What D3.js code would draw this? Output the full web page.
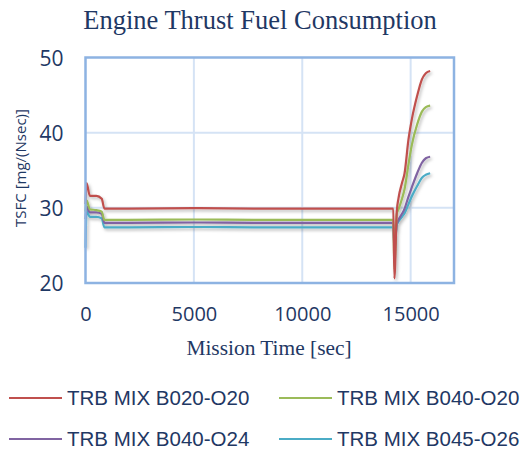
<!DOCTYPE html>
<html>
<head>
<meta charset="utf-8">
<script src="https://cdn.jsdelivr.net/npm/d3@7"></script>
<style>
  html, body { margin: 0; padding: 0; background: #fff; }
  svg { display: block; }
</style>
</head>
<body>
<svg id="chart" width="523" height="451"></svg>
<script>
// ---- data ----
const times = [0, 50, 200, 500, 750, 870, 2000, 5000, 8000, 11000, 14200, 14250, 14360, 14440, 14600, 14720, 14900, 15050, 15300, 15520, 15700, 15900];
const seriesNames = ["TRB MIX B020-O20", "TRB MIX B040-O20", "TRB MIX B040-O24", "TRB MIX B045-O26"];
const redValues    = [30.5, 33.3, 31.6, 31.6, 31.2, 29.9, 29.9, 29.95, 29.9, 29.9, 29.9, 20.6, 29.5, 31.3, 33.3, 34.6, 39.1, 41.7, 44.9, 47.1, 47.9, 48.2];
const greenValues  = [29.5, 31.0, 29.8, 29.7, 29.5, 28.4, 28.4, 28.45, 28.4, 28.4, 28.4, 21.8, 29.2, 29.8, 31.2, 32.5, 35.8, 38.3, 41.1, 42.8, 43.4, 43.6];
const purpleValues = [28.5, 30.2, 29.4, 29.4, 29.2, 28.0, 28.0, 28.05, 28.0, 28.0, 28.0, 24.4, 27.8, 28.4, 29.2, 29.9, 31.5, 32.7, 34.6, 36.0, 36.6, 36.8];
const cyanValues   = [24.7, 29.6, 28.8, 28.8, 28.6, 27.4, 27.4, 27.45, 27.4, 27.4, 27.4, 25.0, 27.7, 28.2, 28.8, 29.3, 30.5, 31.5, 32.9, 34.0, 34.4, 34.6];
const xTicks = [0, 5000, 10000, 15000];
const yTicks = [20, 30, 40, 50];
const colors = ["#C0504D", "#9BBB59", "#8064A2", "#4BACC6"];

const allValues = [redValues, greenValues, purpleValues, cyanValues];

// ---- layout ----
const svg = d3.select("#chart");
const plot = { left: 85.5, right: 454, top: 57.5, bottom: 283 };
const x = d3.scaleLinear().domain([0, 17000]).range([plot.left, plot.right]);
const y = d3.scaleLinear().domain([20, 50]).range([plot.bottom, plot.top]);
const textColor = "#1F3864";

// shadow filter
const defs = svg.append("defs");
const f = defs.append("filter").attr("id", "shadow").attr("x", "-10%").attr("y", "-10%").attr("width", "130%").attr("height", "130%");
f.append("feDropShadow").attr("dx", 1.5).attr("dy", 2).attr("stdDeviation", 1.6)
  .attr("flood-color", "#000").attr("flood-opacity", 0.28);

// title
svg.append("text").attr("x", 260).attr("y", 28.5)
  .attr("text-anchor", "middle")
  .style("font-family", "'Liberation Serif', 'Times New Roman', serif")
  .style("font-size", "26.5px").style("fill", textColor)
  .text("Engine Thrust Fuel Consumption");

// gridlines
const grid = svg.append("g");
grid.selectAll(".gx").data(xTicks.filter(d => d > 0)).enter().append("line")
  .attr("x1", d => x(d)).attr("x2", d => x(d)).attr("y1", plot.top).attr("y2", plot.bottom)
  .attr("stroke", "#D5E3F5").attr("stroke-width", 2);
grid.selectAll(".gy").data(yTicks.filter(d => d > 20 && d < 50)).enter().append("line")
  .attr("x1", plot.left).attr("x2", plot.right).attr("y1", d => y(d)).attr("y2", d => y(d))
  .attr("stroke", "#D5E3F5").attr("stroke-width", 2);

// axes (labels only)
const xAxis = d3.axisBottom(x).tickValues(xTicks).tickSize(0).tickPadding(0).tickFormat(d3.format("d"));
const gx = svg.append("g").attr("transform", `translate(0,${plot.bottom})`).call(xAxis);
gx.select(".domain").remove();
gx.selectAll("text").attr("dy", null).attr("y", 38)
  .style("font-family", "'Open Sans', sans-serif").style("font-size", "20px").style("fill", textColor);

const yAxis = d3.axisLeft(y).tickValues(yTicks).tickSize(0).tickPadding(0);
const gy = svg.append("g").attr("transform", `translate(${plot.left},0)`).call(yAxis);
gy.select(".domain").remove();
gy.selectAll("text").attr("x", -22).attr("dy", "0.36em")
  .style("font-family", "'Open Sans', sans-serif").style("font-size", "21px").style("fill", textColor);

// axis titles
svg.append("text").attr("transform", "translate(26,168) rotate(-90)")
  .attr("text-anchor", "middle")
  .style("font-family", "'Open Sans', sans-serif").style("font-size", "15px").style("fill", textColor)
  .text("TSFC [mg/(Nsec)]");
svg.append("text").attr("x", 269).attr("y", 355)
  .attr("text-anchor", "middle")
  .style("font-family", "'Liberation Serif', 'Times New Roman', serif")
  .style("font-size", "21.4px").style("fill", textColor)
  .text("Mission Time [sec]");

// lines
const line = d3.line().x((d, i) => x(times[i])).y(d => y(d)).curve(d3.curveMonotoneX);
const lines = svg.append("g").attr("filter", "url(#shadow)");
// draw in reverse so red is on top
[3, 2, 1, 0].forEach(k => {
  lines.append("path").datum(allValues[k])
    .attr("d", line).attr("fill", "none")
    .attr("stroke", colors[k]).attr("stroke-width", 2.2)
    .attr("stroke-linejoin", "round");
});

// plot border
svg.append("rect").attr("x", plot.left).attr("y", plot.top)
  .attr("width", plot.right - plot.left).attr("height", plot.bottom - plot.top)
  .attr("fill", "none").attr("stroke", "#8DB3E2").attr("stroke-width", 2.5);

// legend
const legendPos = [
  { lx: 9, ly: 398 }, { lx: 279, ly: 398 },
  { lx: 9, ly: 439 }, { lx: 279, ly: 439 }
];
const lg = svg.append("g");
seriesNames.forEach((name, k) => {
  const p = legendPos[k];
  lg.append("line").attr("x1", p.lx).attr("x2", p.lx + 53).attr("y1", p.ly).attr("y2", p.ly)
    .attr("stroke", colors[k]).attr("stroke-width", 2.2);
  lg.append("text").attr("x", p.lx + 58).attr("y", p.ly + 7.3)
    .style("font-family", "'Liberation Sans', Arial, sans-serif").style("font-size", "20.5px").style("fill", textColor)
    .text(name);
});
</script>
</body>
</html>
